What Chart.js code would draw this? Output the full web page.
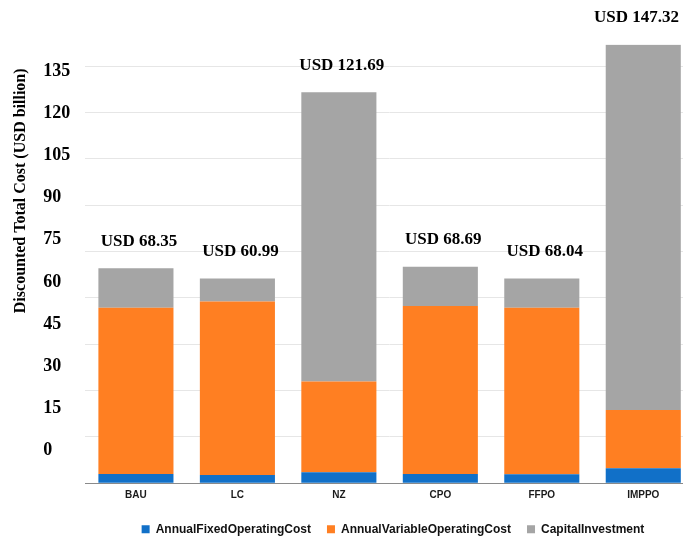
<!DOCTYPE html>
<html>
<head>
<meta charset="utf-8">
<title>Discounted Total Cost</title>
<script src="https://cdn.jsdelivr.net/npm/chart.js@4.4.1/dist/chart.umd.min.js"></script>
<style>
  html, body { margin: 0; padding: 0; background: #fff; overflow: hidden; }
  #wrap { width: 694px; height: 536px; }
</style>
</head>
<body>
<div id="wrap"><canvas id="costChart" width="694" height="536"></canvas></div>
<script>
// values, in the units of the gridlines
const scenarios = ["BAU", "LC", "NZ", "CPO", "FFPO", "IMPPO"];
const fixedCost = [3.0, 2.7, 3.6, 3.0, 2.9, 4.9];
const variableCost = [53.8, 56.1, 29.3, 54.4, 53.9, 18.8];
const capitalCost = [12.8, 7.5, 93.6, 12.7, 9.5, 118.2];
const totalLabels = ["USD 68.35", "USD 60.99", "USD 121.69", "USD 68.69", "USD 68.04", "USD 147.32"];
const yTicks = [0, 15, 30, 45, 60, 75, 90, 105, 120, 135];

const serif = "'Liberation Serif', 'Times New Roman', serif";
const sans = "'Liberation Sans', Arial, sans-serif";
const visibleWidth = 683;

/* total cost text above each stack */
const totalsPlugin = {
  id: "totals",
  afterDatasetsDraw(chart) {
    const ctx = chart.ctx;
    const meta = chart.getDatasetMeta(2);
    ctx.save();
    ctx.font = "bold 17px " + serif;
    ctx.fillStyle = "#000";
    ctx.textAlign = "center";
    ctx.textBaseline = "middle";
    meta.data.forEach((bar, i) => {
      const half = ctx.measureText(totalLabels[i]).width / 2;
      // keep the last label inside the visible frame
      const x = Math.min(bar.x + 3, visibleWidth - 4 - half);
      ctx.fillText(totalLabels[i], x, bar.y - 27);
    });
    ctx.restore();
  }
};

/* legend sits a bit right of centre in the original */
const legendShift = {
  id: "legendShift",
  afterLayout(chart) {
    const lg = chart.legend;
    lg.left += 46;
    lg.right += 46;
  }
};

const ctx = document.getElementById("costChart");

new Chart(ctx, {
  type: "bar",
  data: {
    labels: scenarios,
    datasets: [
      { label: "AnnualFixedOperatingCost", data: fixedCost, backgroundColor: "#1170c8" },
      { label: "AnnualVariableOperatingCost", data: variableCost, backgroundColor: "#ff7f22" },
      { label: "CapitalInvestment", data: capitalCost, backgroundColor: "#a5a5a5" }
    ]
  },
  options: {
    responsive: false,
    animation: false,
    devicePixelRatio: 1,
    barPercentage: 0.74,
    categoryPercentage: 1.0,
    layout: { padding: { top: 44.4, bottom: -9.3, left: 0, right: 0 } },
    plugins: {
      tooltip: { enabled: false },
      legend: {
        position: "bottom",
        labels: {
          boxWidth: 8,
          boxHeight: 8,
          padding: 16,
          color: "#111",
          font: { family: sans, size: 12, weight: "bold" }
        }
      }
    },
    scales: {
      x: {
        stacked: true,
        grid: { display: false, drawTicks: false },
        border: { display: true, color: "#8a8a8a", width: 1 },
        ticks: {
          padding: 6,
          color: "#1a1a1a",
          font: { family: sans, size: 10, weight: "bold" }
        }
      },
      y: {
        stacked: true,
        position: "left",
        weight: 2,
        min: 0,
        max: 142,
        afterBuildTicks: s => { s.ticks = yTicks.map(v => ({ value: v })); },
        grid: { color: "#e6e6e6", drawTicks: false },
        border: { display: false },
        ticks: { display: false },
        title: {
          display: true,
          text: "Discounted Total Cost (USD billion)\u00a0\u00a0\u00a0\u00a0\u00a0\u00a0",
          align: "end",
          color: "#000",
          font: { family: serif, size: 16, weight: "bold" },
          padding: { top: 11, bottom: 13 }
        }
      },
      yl: {
        position: "left",
        weight: 1,
        min: -11.9,
        max: 144.75,
        afterBuildTicks: s => { s.ticks = yTicks.map(v => ({ value: v })); },
        grid: { display: false, drawTicks: false },
        border: { display: false },
        ticks: {
          crossAlign: "far",
          padding: 7.5,
          color: "#000",
          font: { family: serif, size: 18, weight: "bold" },
          callback: v => String(v)
        }
      }
    }
  },
  plugins: [totalsPlugin, legendShift]
});
</script>
</body>
</html>
